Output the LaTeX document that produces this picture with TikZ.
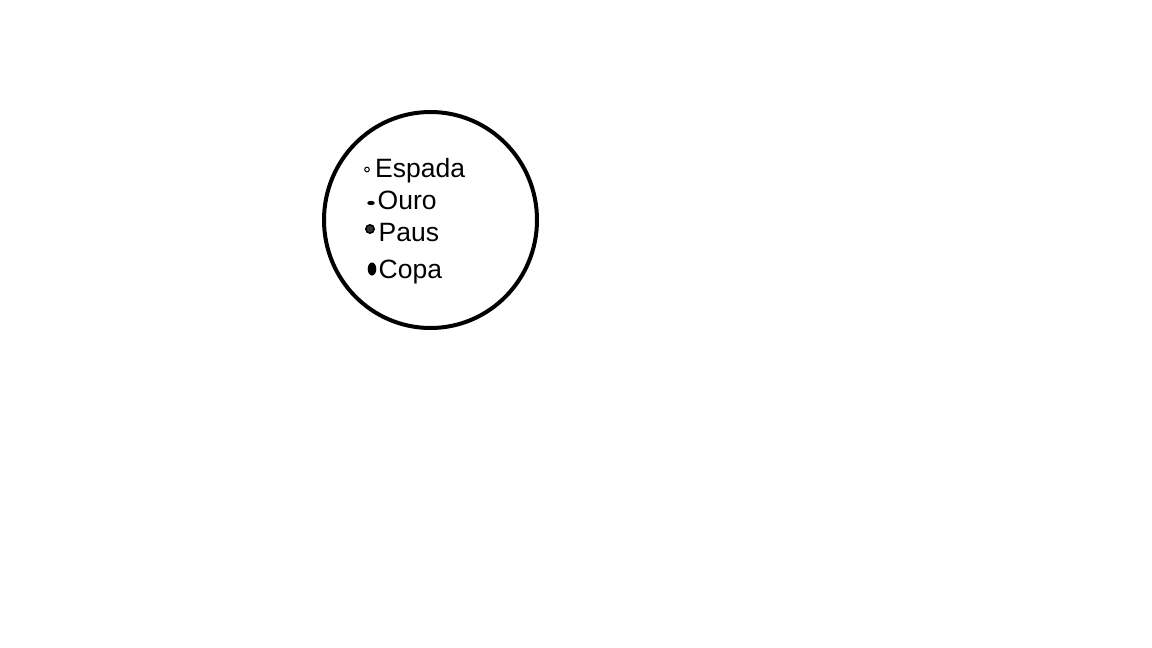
\documentclass[tikz,border=0pt]{standalone}
\usepackage{fontspec}
\setmainfont{Liberation Sans}
\usetikzlibrary{shapes.geometric}
\begin{document}
\begin{tikzpicture}[x=1pt,y=-1pt,
  lbl/.style={anchor=base west,inner sep=0pt,font=\fontsize{26.5}{26.5}\selectfont},
  mk/.style={draw=black,line width=1pt}]
\useasboundingbox[fill=white] (0,0) rectangle (1152,648);
\node[draw=black,line width=4pt,ellipse,minimum width=213pt,minimum height=216pt,inner sep=0pt] (c) at (430.5,220) {};
\node[lbl] (espada) at (375,177) {Espada};
\node[lbl] (ouro) at (377.5,209) {Ouro};
\node[lbl] (paus) at (378.5,241.5) {Paus};
\node[lbl] (copa) at (378.5,278) {Copa};
\draw[mk,fill=white] (367,169.5) circle (2.3);
\fill (371,203) ellipse (3.8 and 2.1);
\draw[mk,line width=1.5pt,fill=black!80] (370,229) circle (4.2);
\fill (372,269) ellipse (4.3 and 6.5);
\end{tikzpicture}
\end{document}
